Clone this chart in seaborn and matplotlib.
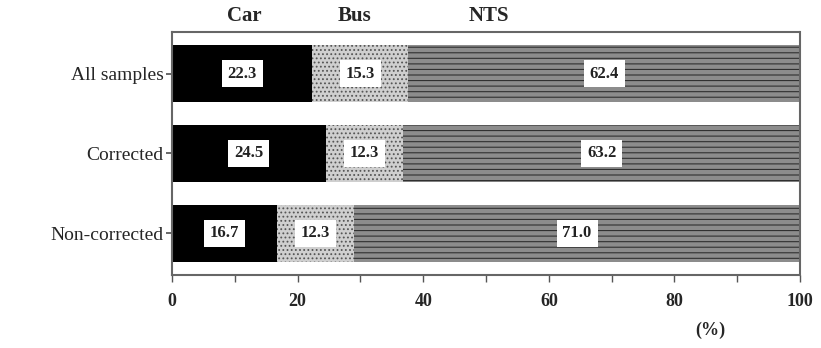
import numpy as np
import matplotlib
matplotlib.use("Agg")
import matplotlib.pyplot as plt
import seaborn as sns

# ----------------------
# 数据
# ----------------------
groups = ["All samples", "Corrected", "Non-corrected"]
car = [22.3, 24.5, 16.7]
bus = [15.3, 12.3, 12.3]
nts = [62.4, 63.2, 71.0]
modes = ["Car", "Bus", "NTS"]
mode_label_x = [11.5, 29, 50.5]
xticks = [0, 20, 40, 60, 80, 100]

serif = ["Liberation Serif", "DejaVu Serif"]
sns.set_theme(style="white")
plt.rcParams["font.family"] = serif
plt.rcParams["hatch.linewidth"] = 0.8

fig = plt.figure(figsize=(8.21, 3.48), dpi=100)
ax = fig.add_axes([0.2095, 0.21, 0.765, 0.698])

car_end = np.array(car)
bus_end = car_end + np.array(bus)
nts_end = bus_end + np.array(nts)

# 堆叠：先画总长，再画前两段，最后画第一段
layers = [
    (nts_end, "#8c8c8c", "#303030", "---"),
    (bus_end, "#cfcfcf", "#555555", "...."),
    (car_end, "#000000", "#000000", None),
]
for vals, fc, ec, hatch in layers:
    n_before = len(ax.patches)
    sns.barplot(x=vals, y=groups, orient="h", color=fc, width=0.72,
                saturation=1, ax=ax)
    for p in ax.patches[n_before:]:
        p.set_facecolor(fc)
        p.set_edgecolor(ec)
        p.set_linewidth(0)
        if hatch:
            p.set_hatch(hatch)

# 段内数值标签
starts = [np.zeros(3), car_end, bus_end]
for seg, st in zip([car, bus, nts], starts):
    for i, v in enumerate(seg):
        ax.text(st[i] + v / 2, i, f"{v:.1f}", ha="center", va="center",
                fontsize=12, fontweight="bold", color="#222222", family=serif,
                bbox=dict(boxstyle="square,pad=0.35", fc="white", ec="none"))

for name, x in zip(modes, mode_label_x):
    ax.text(x, -0.6, name, ha="center", va="bottom", fontsize=15,
            fontweight="bold", family=serif, clip_on=False)

ax.set_xlim(0, 100)
ax.set_ylim(2.52, -0.52)
ax.set_xticks(xticks)
ax.set_xticks(range(10, 100, 20), minor=True)
ax.set_xticklabels([str(t) for t in xticks], fontsize=13, fontweight="bold")
ax.set_yticks(range(3))
ax.set_yticklabels(groups, fontsize=14)
ax.set_xlabel("")
ax.set_ylabel("")
ax.tick_params(axis="x", which="both", direction="out", length=5, width=1,
               bottom=True, color="#555555", pad=8)
ax.tick_params(axis="y", direction="out", length=4, left=True, pad=2,
               color="#555555")
for s in ax.spines.values():
    s.set_linestyle((0, (1, 1)))
    s.set_linewidth(1.5)
    s.set_color("#666666")

fig.text(710 / 821, 1 - 330 / 348, "(%)", ha="center", va="center",
         fontsize=13, fontweight="bold", family=serif)

fig.savefig("out.png", dpi=100)
